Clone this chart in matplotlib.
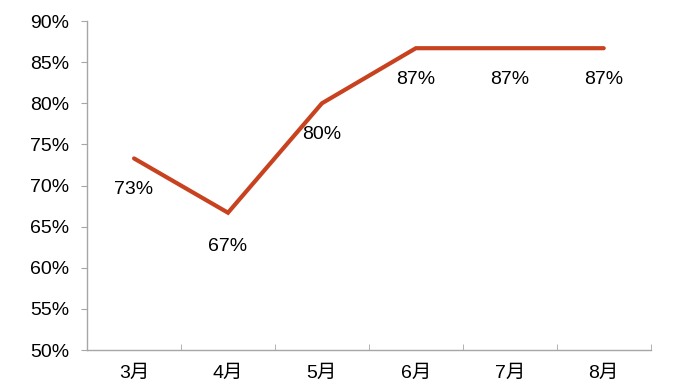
import matplotlib
matplotlib.use("Agg")
import matplotlib.pyplot as plt
from matplotlib.ticker import FixedLocator, PercentFormatter

plt.rcParams['font.family'] = ['Liberation Sans', 'Noto Sans CJK SC', 'DejaVu Sans']

# data
months = ['3月', '4月', '5月', '6月', '7月', '8月']
rates = [73.3, 66.7, 80.0, 86.7, 86.7, 86.7]
rate_labels = ['73%', '67%', '80%', '87%', '87%', '87%']

axis_grey = '#a6a6a6'
line_red = '#c8421f'

fig = plt.figure(figsize=(6.75, 3.83), dpi=100)
ax = fig.add_axes([0.129, 0.086, 0.835, 0.859])

x = list(range(len(months)))
ax.plot(x, rates, color=line_red, lw=3.0, solid_capstyle='round', solid_joinstyle='miter')

for xi, yi, lab in zip(x, rates, rate_labels):
    off = -24 if lab == '67%' else -22.5
    ax.annotate(lab, (xi, yi), xytext=(0, off), textcoords='offset points',
                ha='center', va='center', fontsize=14, color='black')

ax.set_xlim(-0.5, len(months) - 0.5)
ax.set_ylim(50, 90)
ax.set_yticks(range(50, 91, 5))
ax.yaxis.set_major_formatter(PercentFormatter(decimals=0))

ax.set_xticks(x)
ax.set_xticklabels(months)
ax.xaxis.set_minor_locator(FixedLocator([i - 0.5 for i in range(len(months) + 1)]))

for side in ['top', 'right']:
    ax.spines[side].set_visible(False)
for side in ['left', 'bottom']:
    ax.spines[side].set_color(axis_grey)
    ax.spines[side].set_linewidth(1.0)

ax.tick_params(axis='y', direction='out', length=4, color=axis_grey, labelsize=14, pad=9)
ax.tick_params(axis='x', which='major', length=0, labelsize=14, pad=11)
ax.tick_params(axis='x', which='minor', direction='in', length=4, color=axis_grey)

fig.savefig('out.png', dpi=100)
